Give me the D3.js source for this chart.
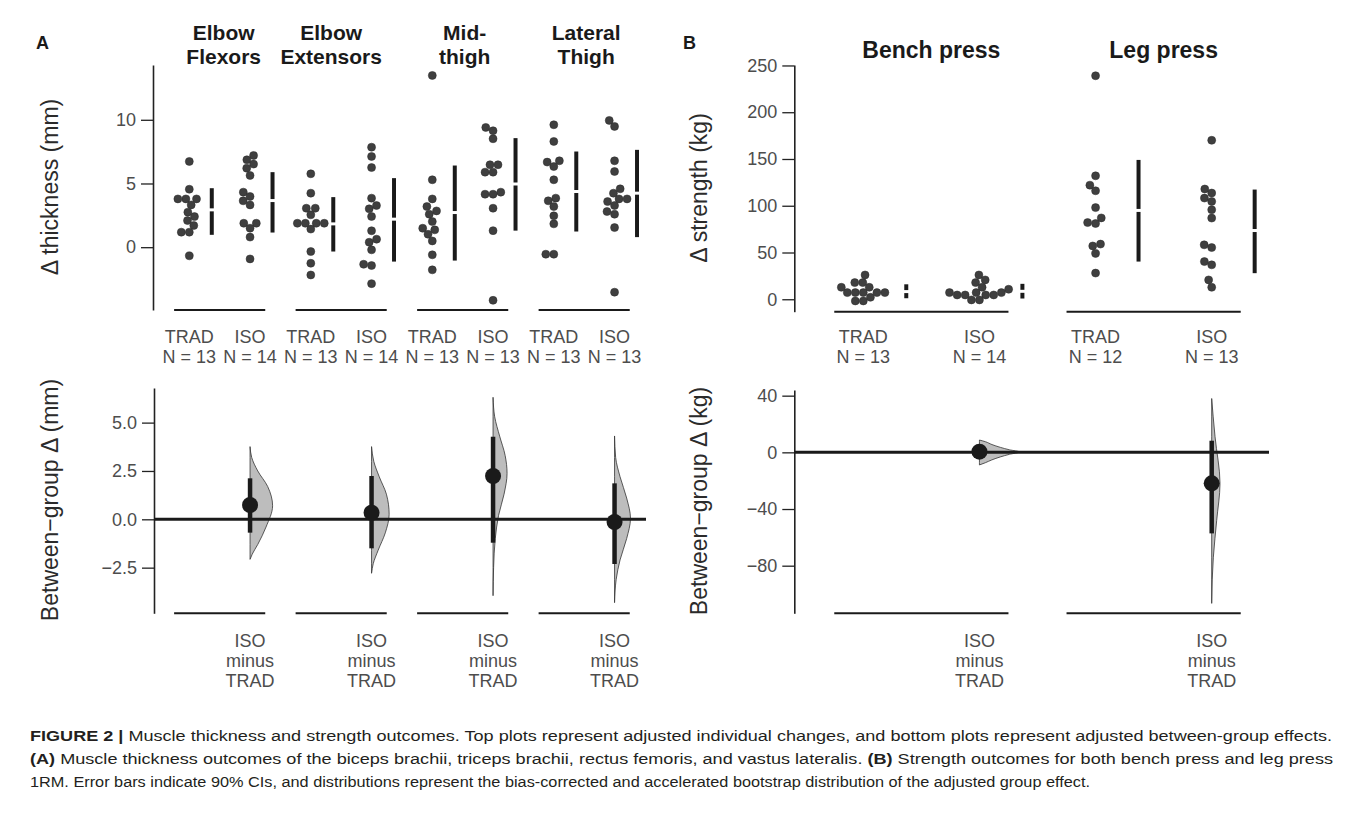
<!DOCTYPE html>
<html>
<head>
<meta charset="utf-8">
<script src="https://cdn.jsdelivr.net/npm/d3@7"></script>
<style>
  body { margin: 0; background: #fff; }
  svg { font-family: "Liberation Sans", Arial, sans-serif; }
</style>
</head>
<body>
<div id="chart"></div>
<script>
// ---------- data ----------
const muscleTitles = [["Elbow", "Flexors"], ["Elbow", "Extensors"], ["Mid-", "thigh"], ["Lateral", "Thigh"]];
const liftTitles = ["Bench press", "Leg press"];
const armLabels = ["TRAD", "ISO"];
const muscleN = [[13, 14], [13, 14], [13, 13], [13, 13]];
const liftN = [[13, 14], [12, 13]];

// individual changes in muscle thickness (mm)
const flexorsTRAD = [6.73, 4.55, 3.79, 3.79, 3.79, 3.32, 2.75, 2.40, 2.09, 1.70, 1.18, 1.18, -0.68];
const flexorsISO = [7.20, 6.86, 6.52, 6.20, 5.63, 4.32, 3.98, 3.64, 3.32, 1.88, 1.88, 1.49, 0.79, -0.92];
const extensorsTRAD = [5.76, 4.24, 3.06, 3.06, 2.54, 1.88, 1.88, 1.88, 1.88, 1.42, -0.34, -1.26, -2.18];
const extensorsISO = [7.85, 7.12, 6.25, 3.85, 3.27, 3.01, 2.41, 1.29, 0.63, 0.39, -0.21, -1.34, -1.44, -2.86];
const midThighTRAD = [13.48, 5.29, 3.79, 3.19, 2.85, 2.59, 2.01, 1.49, 1.36, 1.02, 0.49, -0.60, -1.78];
const midThighISO = [9.40, 9.14, 8.51, 6.47, 6.47, 5.89, 5.89, 4.32, 4.16, 4.16, 3.06, 1.30, -4.17];
const lateralTRAD = [9.61, 8.30, 6.78, 6.68, 6.33, 5.29, 3.85, 3.64, 3.19, 2.46, 1.83, -0.55, -0.55];
const lateralISO = [9.95, 9.48, 6.78, 5.94, 4.58, 4.24, 3.79, 3.79, 3.58, 3.27, 2.80, 2.59, 1.54, -3.53];

// adjusted group means with 90% CI: [low, mean, high]
const flexorsCI = [[0.97, 2.93, 4.63], [1.15, 3.66, 5.89]];
const extensorsCI = [[-0.34, 1.83, 3.93], [-1.13, 2.20, 5.42]];
const midThighCI = [[-1.05, 2.72, 6.41], [1.30, 4.96, 8.56]];
const lateralCI = [[1.23, 4.37, 7.51], [0.79, 4.24, 7.64]];

// between-group effects (mm): [estimate, low, high]
const thicknessEffect = [[0.74, -0.69, 2.12], [0.34, -1.50, 2.24], [2.24, -1.21, 4.27], [-0.14, -2.31, 1.86]];

// bootstrap distributions: [value, density]
const flexorsDist = [[3.76, 0], [3.2, 0.03], [2.5, 0.14], [1.7, 0.32], [0.7, 0.41], [-0.4, 0.29], [-1.3, 0.14], [-1.8, 0.04], [-2.07, 0]];
const extensorsDist = [[3.76, 0], [3.0, 0.04], [2.2, 0.14], [1.3, 0.27], [0.26, 0.32], [-0.7, 0.25], [-1.6, 0.12], [-2.3, 0.03], [-2.79, 0]];
const midThighDist = [[6.31, 0], [5.3, 0.03], [4.3, 0.12], [3.3, 0.22], [2.38, 0.255], [1.3, 0.2], [0.2, 0.1], [-1.0, 0.04], [-2.5, 0.01], [-3.95, 0]];
const lateralDist = [[4.31, 0], [3.2, 0.02], [2.2, 0.1], [1.1, 0.22], [0.05, 0.29], [-1.0, 0.22], [-2.1, 0.1], [-3.1, 0.03], [-4.31, 0]];

// individual changes in strength (kg)
const benchTRAD = [26.0, 17.8, 17.8, 12.8, 12.8, 7.1, 7.1, 7.1, 7.1, 7.1, 2.1, -1.8, -1.8];
const benchISO = [26.0, 20.7, 17.8, 12.8, 10.7, 7.1, 7.1, 7.1, 4.6, 4.6, 4.6, 4.6, -0.7, -0.7];
const legTRAD = [239, 132, 122, 116, 98, 87, 82, 81, 59, 57, 49, 28];
const legISO = [170, 117.9, 113.6, 108.2, 104.6, 95.7, 86.8, 58.2, 55.3, 40.3, 36.8, 20.7, 12.8];

const benchCI = [[1.1, 8.2, 16.0], [0.8, 8.5, 16.5]];
const legCI = [[40.3, 95.0, 149.0], [27.9, 73.5, 117.3]];

const strengthEffect = [[0.5, -4, 5], [-21.9, -57.2, 8.2]];
const benchDist = [[8.7, 0], [7.5, 0.012], [5.5, 0.025], [3.5, 0.042], [1.8, 0.06], [0.3, 0.08], [-1.4, 0.06], [-3.2, 0.042], [-5.3, 0.025], [-7.3, 0.012], [-8.9, 0]];
const legDist = [[38, 0], [25, 0.003], [11, 0.0067], [-22, 0.0166], [-48, 0.01], [-74, 0.0033], [-90, 0.001], [-106.6, 0]];

// tick values
const thicknessTicks = [0, 5, 10];
const thicknessEffectTicks = [-2.5, 0, 2.5, 5];
const strengthTicks = [0, 50, 100, 150, 200, 250];
const strengthEffectTicks = [-80, -40, 0, 40];

const thicknessPoints = [[flexorsTRAD, flexorsISO], [extensorsTRAD, extensorsISO], [midThighTRAD, midThighISO], [lateralTRAD, lateralISO]];
const thicknessCI = [flexorsCI, extensorsCI, midThighCI, lateralCI];
const thicknessDist = [flexorsDist, extensorsDist, midThighDist, lateralDist];
const strengthPoints = [[benchTRAD, benchISO], [legTRAD, legISO]];
const strengthCI = [benchCI, legCI];
const strengthDist = [benchDist, legDist];

// ---------- drawing ----------
const W = 1357, H = 818;
const svg = d3.select('#chart').append('svg').attr('width', W).attr('height', H);

const dotFill = '#3f3f3f';
const ink = '#1a1a1a';
const tickGrey = '#4d4d4d';

// a simple beeswarm: place points low to high, nearest free spot to the centre
function swarm(values, y, diam) {
  const order = values.map((v, i) => i).sort((a, b) => values[a] - values[b]);
  const placed = [];
  const offs = [];
  order.forEach(i => {
    const py = y(values[i]);
    const cands = [0];
    placed.forEach(p => {
      const dy = Math.abs(p.y - py);
      if (dy < diam) {
        const dx = Math.sqrt(diam * diam - dy * dy);
        cands.push(p.x + dx, p.x - dx);
      }
    });
    cands.sort((a, b) => Math.abs(a) - Math.abs(b) || a - b);
    let best = 0;
    for (const c of cands) {
      if (placed.every(p => (p.x - c) ** 2 + (p.y - py) ** 2 >= diam * diam - 0.01)) { best = c; break; }
    }
    placed.push({ x: best, y: py });
    offs[i] = best;
  });
  return offs;
}

function yAxis(g, scale, ticks, fmt) {
  const ax = d3.axisLeft(scale).tickValues(ticks).tickSize(12).tickPadding(5).tickSizeOuter(0)
    .tickFormat(d => fmt(d).replace('-', '\u2212'));
  g.call(ax);
  g.select('.domain').attr('stroke', '#222').attr('stroke-width', 1.6);
  g.selectAll('.tick line').attr('stroke', '#222').attr('stroke-width', 1.3);
  g.selectAll('.tick text').attr('fill', tickGrey).style('font-size', '18px').style('font-family', '"Liberation Sans", Arial, sans-serif');
}

function axisTitle(text, x, y) {
  svg.append('text')
    .attr('transform', `translate(${x},${y}) rotate(-90)`)
    .attr('text-anchor', 'middle')
    .attr('fill', '#2b2b2b')
    .style('font-size', '23px')
    .text(text);
}

function baselines(xs, nGroups, yPix) {
  for (let g = 0; g < nGroups; g++) {
    svg.append('line')
      .attr('x1', xs(2 * g - 0.25)).attr('x2', xs(2 * g + 1.25))
      .attr('y1', yPix).attr('y2', yPix)
      .attr('stroke', ink).attr('stroke-width', 2);
  }
}

function drawTop(xs, y, points, cis, barShift, axisX, ticks, fmt) {
  const gAx = svg.append('g').attr('transform', `translate(${axisX},0)`);
  yAxis(gAx, y, ticks, fmt);
  baselines(xs, points.length, y.range()[0]);
  points.forEach((pair, g) => {
    pair.forEach((vals, a) => {
      const slot = 2 * g + a;
      const offs = swarm(vals, y, 8);
      svg.append('g').selectAll('circle')
        .data(vals)
        .enter()
        .append('circle')
        .attr('cx', (d, i) => xs(slot) + offs[i])
        .attr('cy', d => y(d))
        .attr('r', 4)
        .attr('fill', dotFill)
        .attr('stroke', '#2a2a2a')
        .attr('stroke-width', 0.5);
      const ci = cis[g][a];
      const bx = xs(slot + barShift);
      svg.append('line')
        .attr('x1', bx).attr('x2', bx)
        .attr('y1', y(ci[0])).attr('y2', y(ci[2]))
        .attr('stroke', ink).attr('stroke-width', 4);
      svg.append('rect')
        .attr('x', bx - 3).attr('y', y(ci[1]) - 1.5)
        .attr('width', 6).attr('height', 3)
        .attr('fill', '#fff');
    });
  });
}

function drawBottom(xs, y, effects, dists, wScale, axisX, zeroEnd, ticks, fmt) {
  const gAx = svg.append('g').attr('transform', `translate(${axisX},0)`);
  yAxis(gAx, y, ticks, fmt);
  baselines(xs, effects.length, y.range()[0]);
  const area = d3.area()
    .curve(d3.curveMonotoneY)
    .y(d => y(d[0]));
  dists.forEach((dist, g) => {
    const cx = xs(2 * g + 1);
    svg.append('path')
      .datum(dist)
      .attr('d', area.x0(cx).x1(d => cx + wScale(d[1])))
      .attr('fill', '#bdbdbd')
      .attr('stroke', '#333')
      .attr('stroke-width', 0.8);
  });
  svg.append('line')
    .attr('x1', axisX).attr('x2', zeroEnd)
    .attr('y1', y(0)).attr('y2', y(0))
    .attr('stroke', ink).attr('stroke-width', 3);
  effects.forEach((e, g) => {
    const cx = xs(2 * g + 1);
    svg.append('line')
      .attr('x1', cx).attr('x2', cx)
      .attr('y1', y(e[1])).attr('y2', y(e[2]))
      .attr('stroke', ink).attr('stroke-width', 4.5);
    svg.append('circle')
      .attr('cx', cx).attr('cy', y(e[0])).attr('r', 8)
      .attr('fill', ink);
  });
}

function topLabels(xs, nArr, yPix) {
  nArr.forEach((ns, g) => {
    ns.forEach((n, a) => {
      const x = xs(2 * g + a);
      svg.append('text').attr('x', x).attr('y', yPix).attr('text-anchor', 'middle')
        .attr('fill', tickGrey).style('font-size', '18px').text(armLabels[a]);
      svg.append('text').attr('x', x).attr('y', yPix + 20).attr('text-anchor', 'middle')
        .attr('fill', tickGrey).style('font-size', '18px').text('N = ' + n);
    });
  });
}

function bottomLabels(xs, nGroups, yPix) {
  for (let g = 0; g < nGroups; g++) {
    const x = xs(2 * g + 1);
    [armLabels[1], 'minus', armLabels[0]].forEach((s, k) => {
      svg.append('text').attr('x', x).attr('y', yPix + k * 20).attr('text-anchor', 'middle')
        .attr('fill', tickGrey).style('font-size', '18px').text(s);
    });
  }
}

// ----- Panel A -----
const xA = d3.scaleLinear().domain([0, 7]).range([189.3, 189.3 + 60.75 * 7]);
const yAtop = d3.scaleLinear().domain([-4.93, 14.3]).range([310, 65]);
const yAbot = d3.scaleLinear().domain([-4.86, 6.79]).range([613.3, 388]);

drawTop(xA, yAtop, thicknessPoints, thicknessCI, 0.37, 153, thicknessTicks, d3.format('d'));
drawBottom(xA, yAbot, thicknessEffect, thicknessDist, d3.scaleLinear().domain([0, 1]).range([0, 55]), 154, 646, thicknessEffectTicks, d3.format('.1f'));
topLabels(xA, muscleN, 343);
bottomLabels(xA, 4, 647);

// strip titles sit a little off the group centre, as in the figure
const muscleTitleShift = [4, -10, 2, 2];
muscleTitles.forEach((lines, g) => {
  const cx = xA(2 * g + 0.5) + muscleTitleShift[g];
  lines.forEach((s, k) => {
    svg.append('text').attr('x', cx).attr('y', 40 + k * 24)
      .attr('text-anchor', 'middle').attr('fill', ink)
      .style('font-size', '21px').style('font-weight', 'bold')
      .text(s);
  });
});

axisTitle('\u0394 thickness (mm)', 58, 187);
axisTitle('Between\u2212group \u0394 (mm)', 58, 500);

// ----- Panel B -----
const xB = d3.scaleLinear().domain([0, 3]).range([863.3, 1211.7]);
const yBtop = d3.scaleLinear().domain([-13.3, 250.5]).range([311.7, 65]);
const yBbot = d3.scaleLinear().domain([-113.6, 44]).range([613.3, 390]);

drawTop(xB, yBtop, strengthPoints, strengthCI, 0.37, 794.3, strengthTicks, d3.format('d'));
drawBottom(xB, yBbot, strengthEffect, strengthDist, d3.scaleLinear().domain([0, 0.1]).range([0, 50]), 794.3, 1269, strengthEffectTicks, d3.format('d'));
topLabels(xB, liftN, 343);
bottomLabels(xB, 2, 647);

liftTitles.forEach((s, g) => {
  svg.append('text')
    .attr('x', xB(2 * g + 0.5) + 10).attr('y', 58)
    .attr('text-anchor', 'middle').attr('fill', ink)
    .style('font-size', '23px').style('font-weight', 'bold')
    .text(s);
});

axisTitle('\u0394 strength (kg)', 707, 188);
axisTitle('Between\u2212group \u0394 (kg)', 707, 501);

// panel letters
svg.append('text').attr('x', 36).attr('y', 49).style('font-size', '18px').style('font-weight', 'bold').attr('fill', ink).text('A');
svg.append('text').attr('x', 683).attr('y', 49).style('font-size', '18px').style('font-weight', 'bold').attr('fill', ink).text('B');

// ----- caption -----
const captionLines = [
  [['FIGURE 2 | ', true], ['Muscle thickness and strength outcomes. Top plots represent adjusted individual changes, and bottom plots represent adjusted between-group effects.', false]],
  [['(A)', true], [' Muscle thickness outcomes of the biceps brachii, triceps brachii, rectus femoris, and vastus lateralis. ', false], ['(B)', true], [' Strength outcomes for both bench press and leg press', false]],
  [['1RM. Error bars indicate 90% CIs, and distributions represent the bias-corrected and accelerated bootstrap distribution of the adjusted group effect.', false]]
];
const captionWidths = [1302, 1303, 1060];
captionLines.forEach((parts, k) => {
  const t = svg.append('text')
    .attr('x', 30).attr('y', 741 + k * 23)
    .attr('fill', '#231f20')
    .style('font-size', '15.5px')
    .attr('textLength', captionWidths[k])
    .attr('lengthAdjust', 'spacingAndGlyphs');
  parts.forEach(p => t.append('tspan').style('font-weight', p[1] ? 'bold' : 'normal').text(p[0]));
});
</script>
</body>
</html>
